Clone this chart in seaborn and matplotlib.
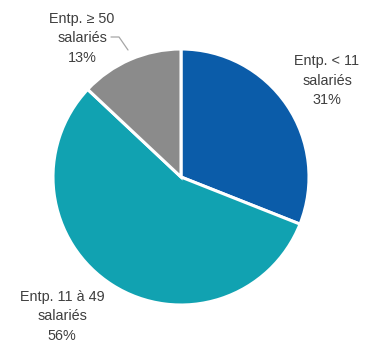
import matplotlib
matplotlib.use("Agg")
import matplotlib.pyplot as plt
import seaborn as sns

# data
categories = ["Entp. < 11\nsalariés", "Entp. 11 à 49\nsalariés", "Entp. ≥ 50\nsalariés"]
shares = [31, 56, 13]
colors = ["#0B5CA9", "#11A2B1", "#8B8B8B"]

sns.set_theme(style="white")
plt.rcParams["font.family"] = ["Liberation Sans", "DejaVu Sans"]

W, H = 372, 343
fig = plt.figure(figsize=(W / 100, H / 100), dpi=100)
ax = fig.add_axes([0, 0, 1, 1])

# pie, pixel coords (y up)
cx, cy, r = 181, H - 177, 128
wedges, _ = ax.pie(shares, colors=sns.color_palette(colors), startangle=90,
                   counterclock=False, center=(cx, cy), radius=r,
                   wedgeprops=dict(edgecolor="white", linewidth=2.2),
                   frame=True)
ax.set_xlim(0, W)
ax.set_ylim(0, H)
ax.set_aspect("equal")
ax.axis("off")

# labels
label_pos = [(327, H - 81), (62, H - 316), (82, H - 38)]
for lab, val, (x, y) in zip(categories, shares, label_pos):
    ax.text(x, y, f"{lab}\n{val}%", ha="center", va="center",
            fontsize=10.4, color="#3F3F3F", linespacing=1.5)

# leader line for the small slice
ax.plot([111, 119, 128], [H - 37, H - 37, H - 50], color="#A6A6A6", lw=0.9)

fig.savefig("out.png", dpi=100)
